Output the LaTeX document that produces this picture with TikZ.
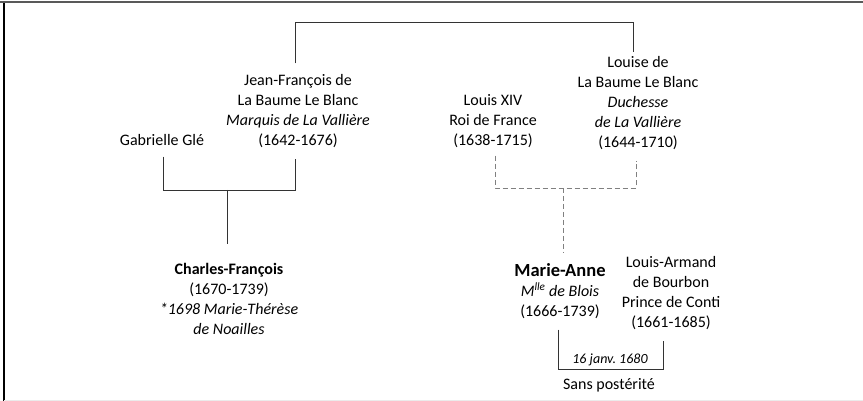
\documentclass[tikz,border=0pt]{standalone}
\usepackage{fontspec}
\setmainfont{Carlito}
\usetikzlibrary{calc}
\tikzset{
  person/.style={align=center, inner sep=0pt, outer ysep=11pt, font=\fontsize{16}{20}\selectfont},
  tie/.style={black!80, line width=0.8pt},
  liaison/.style={gray, line width=0.9pt, dash pattern=on 5pt off 3pt},
}

\begin{document}
\begin{tikzpicture}[x=1pt, y=-1pt]

\useasboundingbox (0,0) rectangle (863,401);
\draw[gray!70!black, line width=2pt] (0,2.5) -- (863,2.5);
\draw[black, line width=1.5pt] (4,3) -- (4,401);
\draw[black!8, line width=1pt] (4,400) -- (863,400);

\node[person] (jf) at (298,111) {Jean-François de\\La Baume Le Blanc\\\textit{Marquis de La Vallière}\\(1642-1676)};
\node[person] (gg) at (162,140) {Gabrielle Glé};
\node[person] (lq) at (493,121) {Louis XIV\\Roi de France\\(1638-1715)};
\node[person] (lb) at (638,103) {Louise de\\La Baume Le Blanc\\\textit{Duchesse}\\\textit{de La Vallière}\\(1644-1710)};
\node[person] (cf) at (229,299) {\textbf{Charles-François}\\(1670-1739)\\\textit{*1698 Marie-Thérèse}\\\textit{de Noailles}};
\node[person] (ma) at (560,291) {{\bfseries\fontsize{18.5}{20}\selectfont Marie-Anne}\\\textit{M\textsuperscript{lle} de Blois}\\(1666-1739)};
\node[person] (la) at (671,293) {Louis-Armand\\de Bourbon\\Prince de Conti\\(1661-1685)};
\node[font=\itshape\fontsize{14}{16}\selectfont, inner sep=0pt] (date) at (610,360) {16 janv.\ 1680};
\node[person] (sp) at (609,385) {Sans postérité};

\coordinate (haut) at (0,22);
\coordinate (barG) at (0,190);
\coordinate (barD) at (0,188);
\coordinate (barM) at (0,369);

\coordinate (jfN) at ([xshift=-3pt]jf.north);
\coordinate (jfS) at ([xshift=-3pt]jf.south);
\coordinate (lbN) at ([xshift=-5pt,yshift=-7pt]lb.north);
\coordinate (lbS) at ([xshift=-2pt]lb.south);
\coordinate (ggS) at ([xshift=1pt]gg.south);
\coordinate (cfN) at ([xshift=-2pt,yshift=8pt]cf.north);
\coordinate (lqS) at ([xshift=2pt,yshift=3pt]lq.south);
\coordinate (maN) at ([xshift=3pt]ma.north);
\coordinate (maS) at ([xshift=-2pt]ma.south);
\coordinate (laS) at ([xshift=-8pt]la.south);

\draw[tie] (jfN) |- (haut -| lbN) -- (lbN);
\draw[tie] (ggS) |- (barG -| jfS) -- (jfS);
\draw[tie] (barG -| cfN) -- (cfN);
\draw[liaison] (lqS) |- (barD -| lbS) -- (lbS);
\draw[liaison] (barD -| maN) -- (maN);
\draw[tie] (maS) |- (barM -| laS) -- (laS);

\end{tikzpicture}
\end{document}
